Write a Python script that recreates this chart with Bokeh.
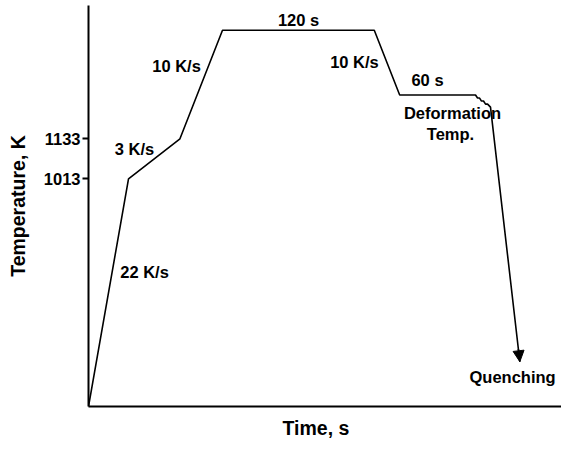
from bokeh.plotting import figure
from bokeh.models import Range1d, FixedTicker, Arrow, NormalHead, Title
from bokeh.core.properties import value
from bokeh.embed import file_html
from bokeh.resources import INLINE

# Thermal schedule: time (s) and temperature (K) at each corner of the path
time_s = [0, 31.5, 72.0, 105.5, 225.0, 245.0,
          304.7, 306.3, 307.9, 309.4, 311.0, 312.6, 314.2, 316.5,
          339.6]
temp_k = [332, 1013, 1133, 1458, 1458, 1264,
          1264, 1255, 1255, 1246, 1246, 1237, 1237, 1228,
          466]

# Labelled temperatures on the vertical axis
temp_ticks = [1013, 1133]

# Step annotations: text, time and temperature of its centre
step_text = ["22 K/s", "3 K/s", "10 K/s", "120 s", "10 K/s", "60 s",
             "Deformation", "Temp.", "Quenching"]
step_t = [44.1, 36.2, 69.3, 165.4, 209.4, 266.9, 286.6, 285.0, 333.9]
step_temp = [734, 1103, 1350, 1490, 1362, 1309, 1210, 1148, 421]

FONT = "Liberation Sans"

p = figure(width=561, height=450, output_backend="svg", toolbar_location=None,
           x_range=Range1d(0, 372.4), y_range=Range1d(332, 1532),
           min_border_left=88, min_border_right=0, min_border_top=5,
           min_border_bottom=42)
p.outline_line_color = None
p.grid.visible = False
p.background_fill_color = "white"
p.border_fill_color = "white"

# Vertical axis: only the two transformation temperatures are marked
ya = p.yaxis[0]
ya.ticker = FixedTicker(ticks=temp_ticks)
ya.minor_tick_line_color = None
ya.major_tick_in = 0
ya.major_tick_out = 6
ya.major_tick_line_width = 2
ya.axis_line_width = 2
ya.major_label_standoff = 2
ya.major_label_text_font = FONT
ya.major_label_text_font_style = "bold"
ya.major_label_text_font_size = "16.5px"
ya.major_label_text_color = "black"
ya.axis_label = "Temperature, K"
ya.axis_label_text_font = FONT
ya.axis_label_text_font_style = "bold"
ya.axis_label_text_font_size = "19.5px"
ya.axis_label_text_color = "black"
ya.axis_label_standoff = 12

# Horizontal axis: bare line, no ticks
xa = p.xaxis[0]
xa.ticker = FixedTicker(ticks=[])
xa.minor_tick_line_color = None
xa.major_tick_line_color = None
xa.axis_line_width = 2
xa.major_label_text_font_size = "0px"

# Horizontal axis title, set a little left of the frame centre
p.add_layout(Title(text="Time, s", align="left", offset=194, standoff=20,
                   vertical_align="top",
                   text_font=FONT, text_font_style="bold",
                   text_font_size="19.5px", text_color="black"), "below")

p.line(time_s, temp_k, line_color="black", line_width=1.6)

# Arrow head at the end of the quench
p.add_layout(Arrow(end=NormalHead(size=11, fill_color="black", line_color="black"),
                   x_start=time_s[-2] + (time_s[-1] - time_s[-2]) * 0.95,
                   y_start=temp_k[-2] + (temp_k[-1] - temp_k[-2]) * 0.95,
                   x_end=time_s[-1], y_end=temp_k[-1],
                   line_color="black", line_width=1.6))

p.text(x=step_t, y=step_temp, text=step_text,
       text_font=value(FONT), text_font_style="bold", text_font_size="16.5px",
       text_align="center", text_baseline="middle", text_color="black")

open("out.html", "w").write(file_html(p, INLINE))
